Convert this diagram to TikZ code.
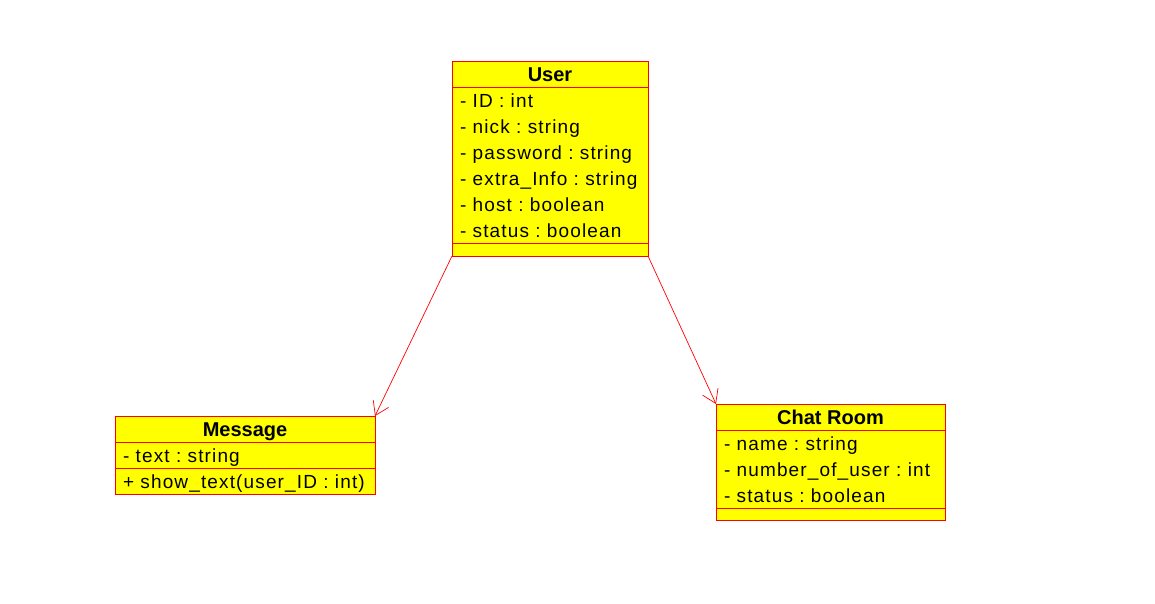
\documentclass[tikz,border=0pt]{standalone}
\usepackage{fontspec}
\setmainfont{Liberation Sans}
\newfontfamily\umlfont{Liberation Sans}[LetterSpace=6]
\usetikzlibrary{positioning,arrows.meta}
\definecolor{clsfill}{RGB}{255,255,0}
\definecolor{clsline}{RGB}{255,0,0}
\newcommand\rowstrut{\rule[-6pt]{0pt}{26pt}}
\frenchspacing
\begin{document}
\begin{tikzpicture}[x=1pt,y=-1pt,
cls/.style = {draw=clsline,fill=clsfill,line width=0.8pt,minimum width=#1,inner sep=0pt,outer sep=0pt},
clsname/.style = {cls=#1,minimum height=26pt,text height=20.5pt,text depth=5.5pt,font=\fontsize{20}{24}\selectfont\bfseries},
clsbody/.style = {cls=#1,inner xsep=8pt,text width=#1-16pt,align=left,font=\umlfont\fontsize{19}{26}\selectfont},
assoc/.style = {clsline,line width=0.7pt,-{Straight Barb[length=13pt,width=17pt]}}
]
  \useasboundingbox (0,0) rectangle (1155,603);

  % User
  \node[clsname=196pt,anchor=north west] (user) at (452,61) {User};
  \node[clsbody=196pt,minimum height=156pt,below=0pt of user] (userattr)
    {\rowstrut- ID : int\\\rowstrut- nick : string\\\rowstrut- password : string\\
     \rowstrut- extra\_Info : string\\\rowstrut- host : boolean\\\rowstrut- status : boolean};
  \node[clsbody=196pt,minimum height=13pt,below=0pt of userattr] (userops) {};

  % Message
  \node[clsname=260pt,anchor=north west] (msg) at (115,416) {Message};
  \node[clsbody=260pt,minimum height=26pt,below=0pt of msg] (msgattr) {\rowstrut- text : string};
  \node[clsbody=260pt,minimum height=26pt,below=0pt of msgattr] (msgops) {\rowstrut\mbox{+ show\_text(user\_ID : int)}};

  % Chat Room
  \node[clsname=229pt,anchor=north west] (room) at (716,404) {Chat Room};
  \node[clsbody=229pt,minimum height=78pt,below=0pt of room] (roomattr)
    {\rowstrut- name : string\\\rowstrut- number\_of\_user : int\\\rowstrut- status : boolean};
  \node[clsbody=229pt,minimum height=12pt,below=0pt of roomattr] (roomops) {};

  \draw[assoc] (userops.south west) -- (msg.north east);
  \draw[assoc] (userops.south east) -- (room.north west);
\end{tikzpicture}
\end{document}
